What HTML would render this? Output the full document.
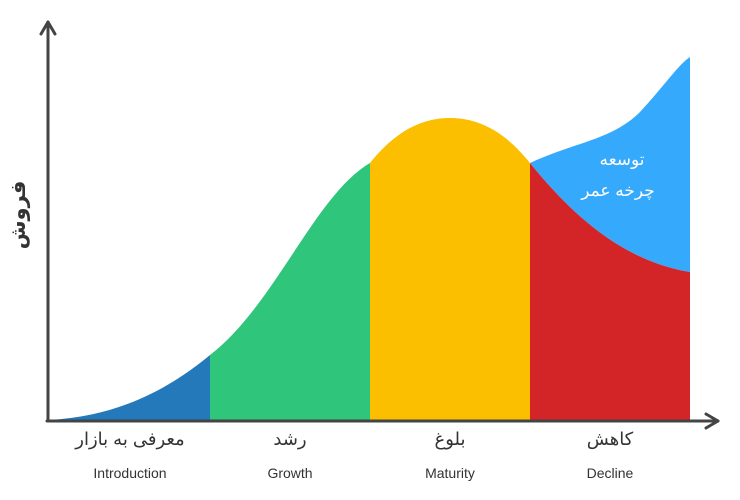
<!DOCTYPE html>
<html><head><meta charset="utf-8"><style>
html,body{margin:0;padding:0;background:#fff;width:740px;height:500px;overflow:hidden}
text{font-family:"Liberation Sans","DejaVu Sans",sans-serif}
</style></head><body>
<svg width="740" height="500" viewBox="0 0 740 500" xmlns="http://www.w3.org/2000/svg">
<path d="M530,163 C575,142 612,140 640,112 C665,85 678,65 690,57 L690,272 C630,262 580,225 530,163 Z" fill="#35a9fb"/>
<path d="M50,420 C120,416 170,388 210,355 L210,420 Z" fill="#2479bb"/>
<path d="M210,355 C275,305 315,195 370,163 L370,420 L210,420 Z" fill="#2fc57b"/>
<path d="M370,163 C398,128 425,118 450,118 C475,118 502,128 530,163 L530,420 L370,420 Z" fill="#fbbf00"/>
<path d="M530,163 C580,225 630,262 690,272 L690,420 L530,420 Z" fill="#d32428"/>
<g stroke="#444" stroke-width="3" fill="none" stroke-linecap="round" stroke-linejoin="round">
<path d="M48,421 L48,22"/><path d="M41,34 L48,22 L55,34"/>
<path d="M47,421 L718,421"/><path d="M706,414 L718,421 L706,428"/>
</g>
<text x="25" y="215" transform="rotate(-90 25 215)" text-anchor="middle" font-size="21" font-weight="bold" fill="#333" style="font-family:'DejaVu Sans','Noto Sans CJK SC',sans-serif">فروش</text>
<g font-size="18" fill="#333" text-anchor="middle" style="font-family:'DejaVu Sans',sans-serif">
<text x="130" y="445">معرفی به بازار</text>
<text x="290" y="445">رشد</text>
<text x="450" y="445">بلوغ</text>
<text x="610" y="445">کاهش</text>
</g>
<g font-size="14" fill="#333" text-anchor="middle">
<text x="130" y="478">Introduction</text>
<text x="290" y="478">Growth</text>
<text x="450" y="478">Maturity</text>
<text x="610" y="478">Decline</text>
</g>
<g font-size="17" fill="#fff" text-anchor="middle" style="font-family:'DejaVu Sans',sans-serif">
<text x="622" y="165">توسعه</text>
<text x="618" y="196">چرخه عمر</text>
</g>
</svg>
</body></html>
